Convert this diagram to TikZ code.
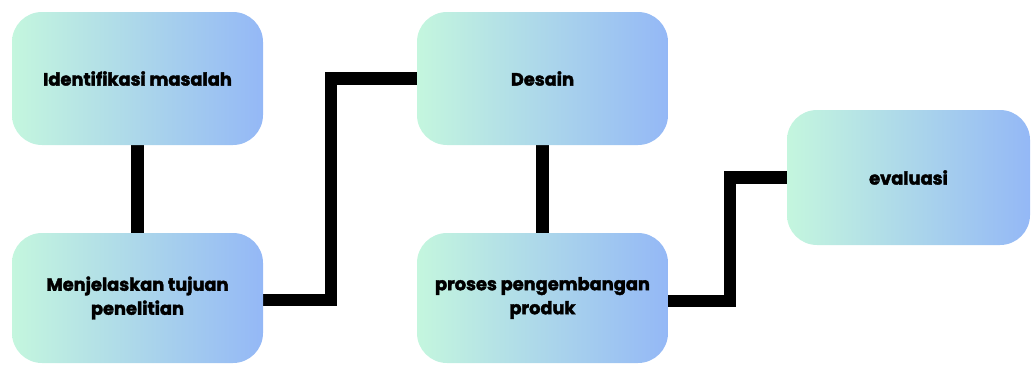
\documentclass[tikz,border=0pt]{standalone}
\usepackage{fontspec}
\setmainfont{Poppins}[BoldFeatures={FakeBold=2.2}]
\definecolor{mint}{RGB}{196,246,222}
\definecolor{sky}{RGB}{148,184,246}
\begin{document}
\begin{tikzpicture}[x=1pt,y=-1pt,
  stepbox/.style={rectangle, rounded corners=30pt, left color=mint, right color=sky,
    draw=none, align=center, font=\fontsize{17.8}{24}\selectfont\bfseries, inner sep=0pt},
  link/.style={line width=12.5pt, line join=miter, draw=black}]
\useasboundingbox (0,0) rectangle (1032,365);
\coordinate (pA) at (137.5,78.5);
\coordinate (pB) at (137.5,298);
\coordinate (pC) at (542.5,78.5);
\coordinate (pD) at (542.5,298);
\coordinate (pE) at (908.5,177.5);
% connectors (behind boxes)
\draw[link] (pA) -- (pB);
\draw[link] (pC) -- (pD);
\coordinate (k1) at (331,300);
\coordinate (k2) at (730,301);
\draw[link] (pB |- k1) -- (k1) |- (pC);
\draw[link] (pD |- k2) -- (k2) |- (pE);
% boxes
\node[stepbox, minimum width=251pt, minimum height=133pt] (A) at (pA) {Identifikasi masalah};
\node[stepbox, minimum width=251pt, minimum height=130pt] (B) at (pB) {Menjelaskan tujuan\\penelitian};
\node[stepbox, minimum width=251pt, minimum height=133pt] (C) at (pC) {Desain};
\node[stepbox, minimum width=251pt, minimum height=130pt] (D) at (pD) {proses pengembangan\\produk};
\node[stepbox, minimum width=243pt, minimum height=135pt] (E) at (pE) {evaluasi};
\end{tikzpicture}
\end{document}
